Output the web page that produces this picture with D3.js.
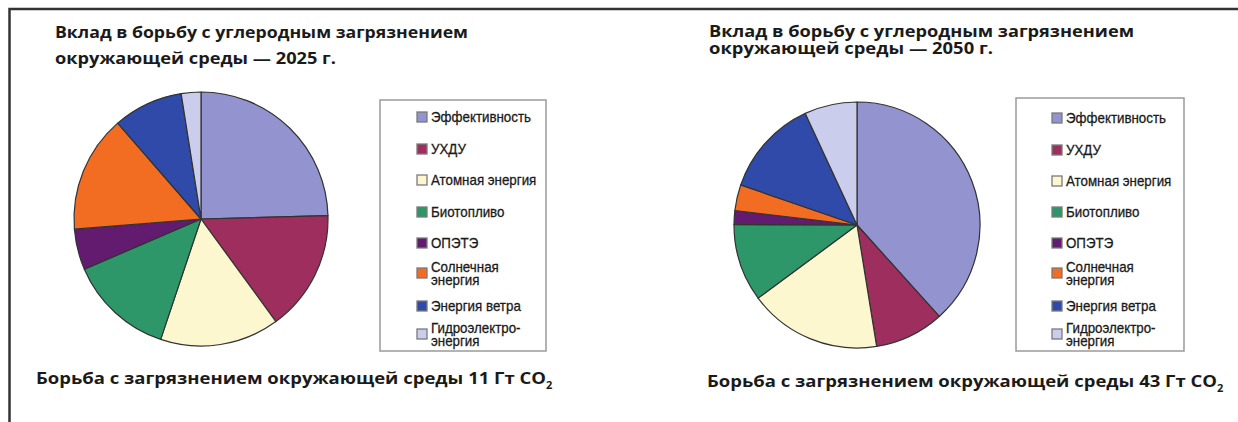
<!DOCTYPE html>
<html>
<head>
<meta charset="utf-8">
<script src="https://cdn.jsdelivr.net/npm/d3@7"></script>
<style>
  html, body { margin: 0; padding: 0; background: #fff; }
  svg { display: block; }
  .title, .caption { font-family: "Open Sans", "Noto Sans", sans-serif; font-weight: 700; fill: #1a1a1a; }
  .leg { font-family: "Liberation Sans", "Arimo", sans-serif; font-size: 15px; fill: #1a1a1a; stroke: #1a1a1a; stroke-width: 0.3px; }
</style>
</head>
<body>
<svg id="chart" width="1238" height="422"></svg>
<script>
// ---- data ----
const categories = ["Эффективность", "УХДУ", "Атомная энергия", "Биотопливо", "ОПЭТЭ", "Солнечная энергия", "Энергия ветра", "Гидроэлектроэнергия"];
const legendLabels = [["Эффективность"], ["УХДУ"], ["Атомная энергия"], ["Биотопливо"], ["ОПЭТЭ"], ["Солнечная", "энергия"], ["Энергия ветра"], ["Гидроэлектро-", "энергия"]];
const values2025 = [24.6, 15.4, 15.2, 13.4, 5.2, 14.9, 8.9, 2.5];
const values2050 = [38.3, 9.1, 17.4, 10.2, 1.8, 3.4, 12.8, 6.9];
const colors = ["#9293cf", "#9e2e5e", "#fcf7cf", "#2d976a", "#621b6f", "#f26c22", "#2f4aa8", "#cbcdec"];
const titles2025 = ["Вклад в борьбу с углеродным загрязнением", "окружающей среды — 2025 г."];
const titles2050 = ["Вклад в борьбу с углеродным загрязнением", "окружающей среды — 2050 г."];
const caption2025 = "Борьба с загрязнением окружающей среды 11 Гт CO";
const caption2050 = "Борьба с загрязнением окружающей среды 43 Гт CO";

const svg = d3.select("#chart");

// frame
svg.append("path")
  .attr("d", "M9.5,422 L9.5,9 L1238,9")
  .attr("fill", "none").attr("stroke", "#333").attr("stroke-width", 2.5);

const color = d3.scaleOrdinal().domain(categories).range(colors);

// condensed factor for legend font
const probe = svg.append("text").attr("class", "leg").text("Эффективность");
const condense = 100 / probe.node().getComputedTextLength();
probe.remove();

function panel(cfg) {
  const g = svg.append("g");
  cfg.titles.forEach((t, i) => {
    g.append("text").attr("class", "title")
      .attr("x", cfg.titleX).attr("y", cfg.titleY[i])
      .attr("font-size", 16.5)
      .attr("textLength", cfg.titleW[i]).attr("lengthAdjust", "spacingAndGlyphs")
      .text(t);
  });
  const pie = d3.pie().sort(null).value(d => d.v);
  const arc = d3.arc().innerRadius(0).outerRadius(cfg.r);
  const data = categories.map((c, i) => ({ c, v: cfg.values[i] }));
  const pg = g.append("g").attr("transform", `translate(${cfg.cx},${cfg.cy})`);
  pg.selectAll("path").data(pie(data)).join("path")
    .attr("d", arc)
    .attr("fill", d => color(d.data.c))
    .attr("stroke", "#333").attr("stroke-width", 1.2).attr("stroke-linejoin", "round");
  g.append("rect")
    .attr("x", cfg.lx).attr("y", cfg.ly).attr("width", cfg.lw).attr("height", cfg.lh)
    .attr("fill", "#fff").attr("stroke", "#9a9a9a").attr("stroke-width", 1.5);
  const rowY = d3.scaleOrdinal().domain(categories).range(cfg.rowY);
  const lg = g.append("g");
  categories.forEach((c, i) => {
    const lines = legendLabels[i];
    const y = rowY(c);
    lg.append("rect")
      .attr("x", cfg.sx).attr("y", y - 5).attr("width", 10).attr("height", 10)
      .attr("fill", color(c)).attr("stroke", "#7a7a7a").attr("stroke-width", 1.3);
    const lh = 13;
    lines.forEach((ln, j) => {
      const t = lg.append("text").attr("class", "leg")
        .attr("x", cfg.sx + 14)
        .attr("y", y + 5 + (j - (lines.length - 1) / 2) * lh)
        .text(ln);
      const w = t.node().getComputedTextLength();
      t.attr("textLength", w * condense).attr("lengthAdjust", "spacingAndGlyphs");
    });
  });
  const cap = g.append("text").attr("class", "caption")
    .attr("x", cfg.capX).attr("y", cfg.capY).attr("font-size", 16.5);
  cap.append("tspan").text(cfg.caption)
    .attr("textLength", cfg.capW).attr("lengthAdjust", "spacingAndGlyphs");
  cap.append("tspan").attr("font-size", 11).attr("dy", 5).text("2");
}

panel({
  titles: titles2025, titleX: 55, titleY: [38, 64], titleW: [413, 281],
  values: values2025, cx: 201, cy: 219, r: 127,
  lx: 380, ly: 100, lw: 166, lh: 251, sx: 417,
  rowY: [117, 149, 180, 212, 243, 273, 306, 334],
  caption: caption2025, capX: 36, capY: 384, capW: 510
});
panel({
  titles: titles2050, titleX: 709, titleY: [37, 54], titleW: [425, 284],
  values: values2050, cx: 857, cy: 225, r: 123,
  lx: 1016, ly: 98, lw: 168, lh: 253, sx: 1052,
  rowY: [118, 150, 181, 212, 243, 273, 306, 334],
  caption: caption2050, capX: 707, capY: 387, capW: 510
});
</script>
</body>
</html>
